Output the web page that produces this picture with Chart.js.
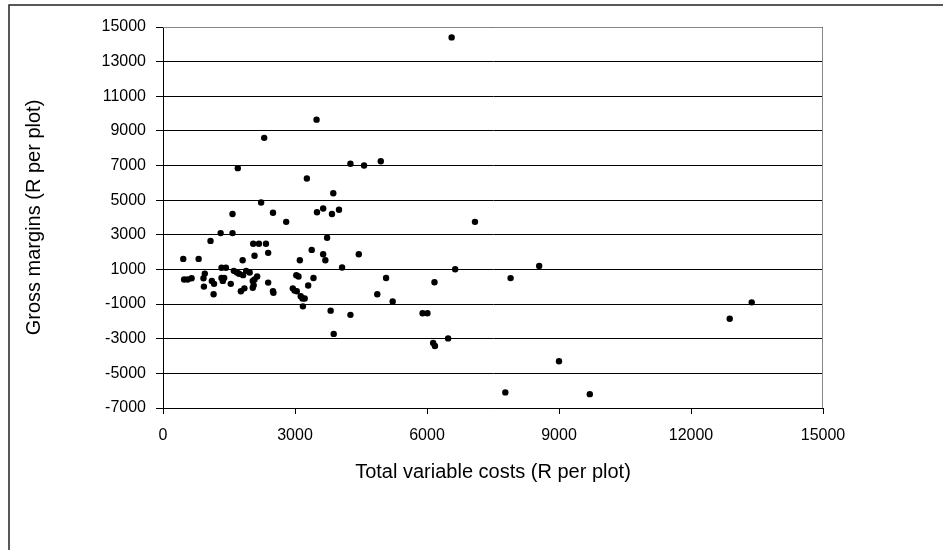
<!DOCTYPE html>
<html>
<head>
<meta charset="utf-8">
<script src="https://cdn.jsdelivr.net/npm/chart.js@4"></script>
<style>
  html, body { margin: 0; padding: 0; background: #fff; }
  #wrap { width: 943px; height: 550px; }
</style>
</head>
<body>
<div id="wrap"><canvas id="scatter" width="943" height="550"></canvas></div>
<script>
// total variable costs (R per plot)
const costs = [
  6560, 3490, 2300, 1700, 3270, 4260, 4570, 4950, 3870, 2230,
  1580, 2500, 3500, 3640, 3840, 4000, 2800, 7090, 1310, 1580,
  1080, 2050, 2180, 2340, 3730, 2390, 2080, 3380, 3640, 4450,
  460, 810, 1810, 3110, 3690, 6640, 4070, 1330, 1430, 1610,
  1680, 1730, 1820, 1890, 1970, 3030, 3080, 950, 480, 560,
  650, 920, 1110, 1160, 1330, 1390, 1360, 1540, 1770, 1850,
  2040, 2080, 2040, 2060, 2140, 2390, 2500, 2510, 3420, 3300,
  2950, 2990, 3040, 3130, 3170, 3220, 3180, 3810, 4260, 3880,
  4870, 5070, 5220, 6170, 5900, 6010, 6140, 6180, 6480, 930,
  1150, 8550, 7900, 13380, 12880, 9000, 7780, 9700
];
// gross margins (R per plot)
const margins = [
  14400, 9650, 8600, 6850, 6250, 7100, 7000, 7250, 5400, 4870,
  4200, 4270, 4300, 4520, 4200, 4450, 3750, 3750, 3100, 3100,
  2650, 2480, 2480, 2480, 2830, 1960, 1790, 2130, 1880, 1880,
  1610, 1610, 1530, 1530, 1530, 1010, 1110, 1100, 1100, 920,
  820, 750, 670, 920, 820, 670, 590, 760, 420, 420,
  490, 490, 340, 170, 510, 510, 340, 170, -260, -90,
  340, 420, -60, 90, 590, 240, -260, -350, 510, 70,
  -90, -220, -260, -550, -680, -680, -1130, -1380, -1620, -2720,
  -430, 510, -850, 260, -1530, -1530, -3240, -3420, -2980, 10,
  -430, 1200, 500, -900, -1850, -4300, -6100, -6200
];
const xTicks = [0, 3000, 6000, 9000, 12000, 15000];
const yTicks = [-7000, -5000, -3000, -1000, 1000, 3000, 5000, 7000, 9000, 11000, 13000, 15000];

const points = costs.map((c, i) => ({ x: c, y: margins[i] }));

// frame round the picture and box round the plot
const frames = {
  id: "frames",
  beforeDraw(chart) {
    const ctx = chart.ctx;
    ctx.save();
    ctx.strokeStyle = "#222";
    ctx.lineWidth = 1.5;
    ctx.beginPath();
    ctx.moveTo(9, 550);
    ctx.lineTo(9, 5);
    ctx.lineTo(943, 5);
    ctx.stroke();
    ctx.restore();
  },
  afterDatasetsDraw(chart) {
    const a = chart.chartArea;
    const ctx = chart.ctx;
    ctx.save();
    ctx.strokeStyle = "#888";
    ctx.lineWidth = 1;
    ctx.beginPath();
    ctx.moveTo(a.left, a.top + 0.5);
    ctx.lineTo(a.right - 0.5, a.top + 0.5);
    ctx.lineTo(a.right - 0.5, a.bottom);
    ctx.stroke();
    ctx.restore();
  }
};

new Chart(document.getElementById("scatter"), {
  type: "scatter",
  data: {
    datasets: [{
      data: points,
      pointRadius: 3.2,
      pointHoverRadius: 3.2,
      pointBackgroundColor: "#000",
      pointBorderWidth: 0
    }]
  },
  options: {
    responsive: false,
    animation: false,
    layout: { padding: { left: 22, top: 27, right: 120, bottom: 66 } },
    plugins: { legend: { display: false }, tooltip: { enabled: false } },
    scales: {
      x: {
        type: "linear",
        min: 0,
        max: 15000,
        afterBuildTicks(scale) { scale.ticks = xTicks.map(v => ({ value: v })); },
        afterFit(scale) { scale.height = 76; },
        grid: { drawOnChartArea: false, drawTicks: true, tickLength: 6, color: "#000" },
        border: { color: "#000", width: 1 },
        ticks: {
          color: "#000", padding: 12, maxRotation: 0,
          font: { family: "Liberation Sans", size: 16 },
          callback: v => String(v)
        },
        title: {
          display: true,
          text: "Total variable costs (R per plot)",
          color: "#000",
          padding: 0,
          font: { family: "Liberation Sans", size: 20 }
        }
      },
      y: {
        type: "linear",
        min: -7000,
        max: 15000,
        afterBuildTicks(scale) { scale.ticks = yTicks.map(v => ({ value: v })); },
        afterFit(scale) { scale.width = 141; },
        grid: { color: "#000", lineWidth: 1, tickLength: 7 },
        border: { color: "#000", width: 1 },
        ticks: {
          color: "#000", padding: 10,
          font: { family: "Liberation Sans", size: 16 },
          callback: v => String(v)
        },
        title: {
          display: true,
          text: "Gross margins (R per plot)",
          color: "#000",
          padding: 0,
          font: { family: "Liberation Sans", size: 20 }
        }
      }
    }
  },
  plugins: [frames]
});
</script>
</body>
</html>
